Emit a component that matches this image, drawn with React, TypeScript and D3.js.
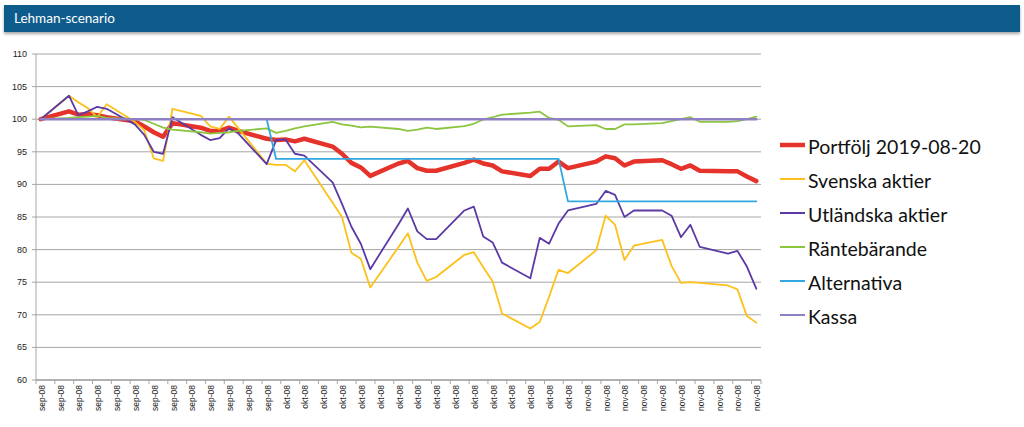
import React from 'react';
import * as d3 from 'd3';

const dates = [
  '2008-09-05', '2008-09-08', '2008-09-09', '2008-09-10', '2008-09-11', '2008-09-12',
  '2008-09-15', '2008-09-16', '2008-09-17', '2008-09-18', '2008-09-19',
  '2008-09-22', '2008-09-23', '2008-09-24', '2008-09-25', '2008-09-26',
  '2008-09-29', '2008-09-30', '2008-10-01', '2008-10-02', '2008-10-03',
  '2008-10-06', '2008-10-07', '2008-10-08', '2008-10-09', '2008-10-10',
  '2008-10-13', '2008-10-14', '2008-10-15', '2008-10-16', '2008-10-17',
  '2008-10-20', '2008-10-21', '2008-10-22', '2008-10-23', '2008-10-24',
  '2008-10-27', '2008-10-28', '2008-10-29', '2008-10-30', '2008-10-31',
  '2008-11-03', '2008-11-04', '2008-11-05', '2008-11-06', '2008-11-07',
  '2008-11-10', '2008-11-11', '2008-11-12', '2008-11-13', '2008-11-14',
  '2008-11-17', '2008-11-18', '2008-11-19', '2008-11-20',
];

const portfolj = [
  100, 101.2, 100.7, 100.8, 100.6, 100.3,
  99.7, 98.9, 98.0, 97.3, 99.4,
  98.7, 98.2, 98.2, 98.7, 98.2,
  97.0, 96.8, 96.9, 96.6, 97.0,
  95.8, 94.7, 93.3, 92.6, 91.3,
  93.2, 93.6, 92.5, 92.1, 92.1,
  93.3, 93.8, 93.2, 92.9, 92.0,
  91.3, 92.4, 92.4, 93.5, 92.5,
  93.5, 94.3, 94.0, 92.9, 93.5,
  93.7, 93.1, 92.4, 92.9, 92.1,
  92.0, 92.0, 91.2, 90.5,
];

const svenska = [
  100, 103.6, 102.6, 101.7, 100.3, 102.3,
  99.6, 98.3, 94.0, 93.6, 101.6,
  100.5, 98.9, 98.5, 100.4, 98.6,
  93.2, 93.0, 93.0, 92.0, 93.7,
  87.2, 85.0, 79.5, 78.6, 74.2,
  80.4, 82.5, 78.0, 75.2, 75.8,
  79.2, 79.6, 77.3, 75.1, 70.2,
  67.9, 68.9, 72.8, 76.9, 76.4,
  79.9, 85.2, 83.8, 78.4, 80.6,
  81.5, 77.5, 74.9, 75.0, 74.9,
  74.5, 73.9, 69.8, 68.8,
];

const utlandska = [
  100, 103.6, 100.6, 101.2, 101.9, 101.6,
  99.2, 97.6, 95.0, 94.7, 100.3,
  97.6, 96.8, 97.1, 98.6, 97.8,
  93.1, 96.8, 96.9, 94.7, 94.4,
  90.3, 87.0, 83.5, 80.9, 77.0,
  83.9, 86.3, 82.8, 81.6, 81.6,
  86.0, 86.6, 82.0, 81.1, 78.0,
  75.6, 81.8, 80.9, 84.0, 86.0,
  87.0, 89.0, 88.4, 85.0, 86.0,
  86.0, 85.2, 81.9, 83.8, 80.4,
  79.4, 79.8, 77.4, 74.0,
];

const rantebarande = [
  100, 100.2, 100.3, 100.4, 100.5, 100.2,
  100.0, 99.9, 99.3, 98.7, 98.4,
  98.0, 97.8, 97.9, 98.0, 98.2,
  98.6, 97.9, 98.2, 98.6, 98.9,
  99.6, 99.2, 99.0, 98.75, 98.85,
  98.5, 98.2, 98.4, 98.7, 98.5,
  98.95, 99.3, 99.95, 100.3, 100.7,
  101.0, 101.15, 100.2, 99.9, 98.9,
  99.1, 98.5, 98.5, 99.2, 99.2,
  99.4, 99.7, 100.0, 100.3, 99.6,
  99.6, 99.7, 100.0, 100.4,
];

const alternativa = [
  100, 100, 100, 100, 100, 100,
  100, 100, 100, 100, 100,
  100, 100, 100, 100, 100,
  100, 93.9, 93.9, 93.9, 93.9,
  93.9, 93.9, 93.9, 93.9, 93.9,
  93.9, 93.9, 93.9, 93.9, 93.9,
  93.9, 93.9, 93.9, 93.9, 93.9,
  93.9, 93.9, 93.9, 93.9, 87.4,
  87.4, 87.4, 87.4, 87.4, 87.4,
  87.4, 87.4, 87.4, 87.4, 87.4,
  87.4, 87.4, 87.4, 87.4,
];

const kassa = [
  100, 100, 100, 100, 100, 100,
  100, 100, 100, 100, 100,
  100, 100, 100, 100, 100,
  100, 100, 100, 100, 100,
  100, 100, 100, 100, 100,
  100, 100, 100, 100, 100,
  100, 100, 100, 100, 100,
  100, 100, 100, 100, 100,
  100, 100, 100, 100, 100,
  100, 100, 100, 100, 100,
  100, 100, 100, 100,
];

const seriesNames = [
  'Portfölj 2019-08-20',
  'Svenska aktier',
  'Utländska aktier',
  'Räntebärande',
  'Alternativa',
  'Kassa',
];
const seriesValues = [portfolj, svenska, utlandska, rantebarande, alternativa, kassa];
const seriesColors = ['#e5322a', '#fcc11a', '#5b3aa5', '#8cc540', '#33a8e0', '#8f80c6'];
const seriesWidths = [4.5, 1.8, 1.8, 1.8, 1.8, 2.6];

const yDomain = [60, 110];
const title = 'Lehman-scenario';
const shortMonths = ['jan', 'feb', 'mar', 'apr', 'maj', 'jun', 'jul', 'aug', 'sep', 'okt', 'nov', 'dec'];

export default function App() {
  const W = 1024;
  const H = 427;
  const left = 36;
  const right = 761;
  const top = 54;
  const bottom = 380;

  const parse = d3.utcParse('%Y-%m-%d');
  const ds = dates.map((s) => parse(s) as Date);
  const start = ds[0];
  const end = ds[ds.length - 1];

  const x = d3
    .scaleUtc()
    .domain([d3.utcHour.offset(start, -12), d3.utcHour.offset(end, 12)])
    .range([left, right]);
  const y = d3.scaleLinear().domain(yDomain).range([bottom, top]);
  const yTicks = y.ticks(10);

  const labelDates = d3.utcDay.range(start, d3.utcDay.offset(end, 1), 2);
  const locale = d3.timeFormatLocale({
    dateTime: '%A %e %B %Y %X',
    date: '%Y-%m-%d',
    time: '%H:%M:%S',
    periods: ['fm', 'em'],
    days: ['söndag', 'måndag', 'tisdag', 'onsdag', 'torsdag', 'fredag', 'lördag'],
    shortDays: ['sön', 'mån', 'tis', 'ons', 'tor', 'fre', 'lör'],
    months: ['januari', 'februari', 'mars', 'april', 'maj', 'juni', 'juli', 'augusti', 'september', 'oktober', 'november', 'december'],
    shortMonths: shortMonths,
  } as any);
  const fmt = locale.utcFormat('%b-%y');

  const line = d3
    .line<number>()
    .x((_, i) => x(ds[i]))
    .y((v) => y(v));

  return (
    <svg
      width={W}
      height={H}
      viewBox={`0 0 ${W} ${H}`}
      style={{ position: 'absolute', left: 0, top: 0, background: '#fff' }}
    >
      <defs>
        <filter id="sh" x="-5%" y="-50%" width="110%" height="220%">
          <feDropShadow dx="0" dy="2" stdDeviation="1.5" floodColor="#000" floodOpacity="0.35" />
        </filter>
      </defs>
      <rect x={0} y={0} width={W} height={H} fill="#fff" />
      {/* title bar */}
      <rect x={4} y={5} width={1016} height={27} fill="#0f5b8c" filter="url(#sh)" />
      <text x={14} y={23} fill="#fff" fontFamily="Lato, 'Open Sans', sans-serif" fontSize={13.5}>
        {title}
      </text>

      {/* gridlines */}
      {yTicks.map((t) => (
        <line key={'g' + t} x1={left} x2={right} y1={y(t)} y2={y(t)} stroke="#a6a6a6" strokeWidth={1} />
      ))}
      {/* y axis */}
      <line x1={left} x2={left} y1={top} y2={bottom} stroke="#a6a6a6" strokeWidth={1} />
      {yTicks.map((t) => (
        <g key={'yt' + t}>
          <line x1={left - 4} x2={left} y1={y(t)} y2={y(t)} stroke="#a6a6a6" />
          <text
            x={left - 9}
            y={y(t)}
            textAnchor="end"
            dominantBaseline="central"
            fontFamily="'Liberation Sans', Arial, sans-serif"
            fontSize={9}
            fill="#222"
          >
            {t}
          </text>
        </g>
      ))}

      {/* x axis */}
      <line x1={left} x2={right} y1={bottom} y2={bottom} stroke="#a6a6a6" strokeWidth={1.5} />
      {labelDates.map((d, i) => {
        const tx = x(d3.utcHour.offset(d, -12));
        const cx = x(d);
        return (
          <g key={'xt' + i}>
            <line x1={tx} x2={tx} y1={bottom} y2={bottom + 4} stroke="#a6a6a6" />
            <text
              transform={`translate(${cx + 1},${bottom + 5}) rotate(-90)`}
              textAnchor="end"
              dominantBaseline="central"
              fontFamily="'Liberation Sans', Arial, sans-serif"
              fontSize={8.5}
              fill="#222"
            >
              {fmt(d)}
            </text>
          </g>
        );
      })}
      <line x1={right} x2={right} y1={bottom} y2={bottom + 4} stroke="#a6a6a6" />

      {/* series */}
      {seriesValues.map((vals, i) => (
        <path
          key={'s' + i}
          d={line(vals) || ''}
          fill="none"
          stroke={seriesColors[i]}
          strokeWidth={seriesWidths[i]}
          strokeLinejoin="round"
          strokeLinecap="round"
        />
      ))}

      {/* legend */}
      {seriesNames.map((name, i) => {
        const ly = 145 + i * 34;
        return (
          <g key={'l' + i}>
            <line
              x1={780}
              x2={805}
              y1={ly}
              y2={ly}
              stroke={seriesColors[i]}
              strokeWidth={i === 0 ? 4.5 : 2}
            />
            <text
              x={808}
              y={ly + 1}
              dominantBaseline="central"
              fontFamily="Lato, 'Open Sans', sans-serif"
              fontSize={19.5}
              fill="#111"
            >
              {name}
            </text>
          </g>
        );
      })}
    </svg>
  );
}
